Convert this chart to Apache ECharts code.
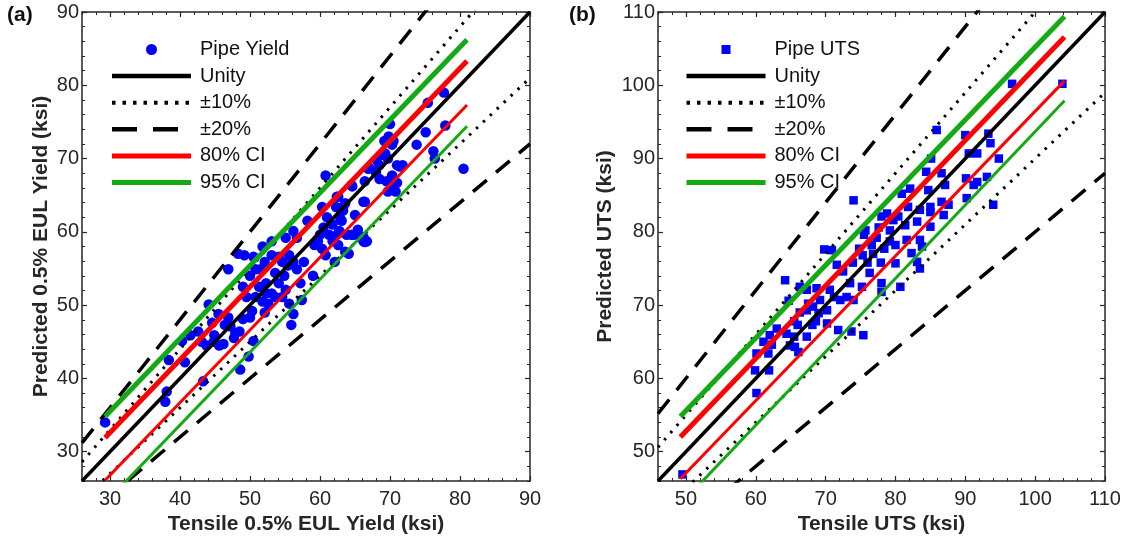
<!DOCTYPE html>
<html><head><meta charset="utf-8">
<script src="https://cdn.jsdelivr.net/npm/echarts@6/dist/echarts.min.js"></script>
<style>html,body{margin:0;padding:0;background:#fff}#c{width:1124px;height:542px}</style>
</head><body><div id="c"></div>
<script>
// ---------- Panel (a): Pipe Yield ----------
const yieldTensile = [29.3,38.1,37.9,38.4,40.7,43.3,48.6,49.8,50.5,40.3,41.5,42.6,43.8,44.1,44.9,45.6,46.2,46.9,46.9,48.3,49.2,47.2,47.7,47.9,48.5,49.0,50.0,50.3,50.8,49.5,49.0,50.0,50.8,50.5,51.8,53.1,52.1,52.3,53.1,52.6,52.1,53.6,54.1,54.6,54.9,55.1,56.2,56.7,55.6,56.2,56.7,57.2,55.1,55.6,56.2,55.9,57.4,57.7,58.2,59.0,59.2,59.7,60.0,60.3,60.5,60.8,61.0,61.3,61.8,62.1,62.3,62.6,63.1,63.6,63.8,64.1,64.6,64.9,65.4,65.9,66.2,66.4,66.7,66.4,66.9,68.0,68.5,69.0,69.2,69.7,70.0,70.3,70.5,70.3,70.8,71.0,71.0,71.8,73.8,75.1,75.4,76.2,76.4,77.7,77.9,80.5,69.8,69.5,68.5,69.7,51.3,51.8,53.1,53.6,54.6,55.4,54.1,51.5,52.3,45.5,46.4,44.8,43.1,44.6,61.8,62.8,63.3,62.6,60.3,60.8,71.4,70.5,69.3,68.1,67.1,64.5,66.2,62.4,63.3,62.9,65.0,64.5,66.2,62.6,63.6,66.4];
const yieldPredicted = [34.0,38.2,36.8,42.5,42.2,39.6,41.2,43.0,45.1,45.1,45.9,46.4,44.5,50.1,45.9,44.5,44.7,48.3,54.9,57.0,56.8,47.1,45.5,46.2,46.4,48.1,48.3,49.2,51.1,51.1,52.5,54.0,54.9,56.6,58.0,58.7,55.9,53.0,51.6,50.2,49.0,51.1,53.0,55.9,54.0,59.2,60.1,59.2,56.8,55.9,54.9,53.0,52.1,50.2,48.8,47.3,50.7,55.9,61.5,54.0,58.2,58.7,59.6,63.4,60.6,67.7,62.0,59.6,61.0,55.9,63.4,64.8,61.5,63.9,59.6,57.0,66.2,59.6,60.3,59.2,58.7,64.1,58.7,66.9,68.6,68.1,69.1,70.5,72.4,70.0,74.7,71.9,72.4,67.7,65.5,66.7,69.1,69.1,71.9,73.6,77.6,71.0,70.0,79.0,74.5,68.6,73.0,66.9,67.2,65.5,52.5,50.5,56.8,54.4,51.1,55.4,56.6,54.9,51.6,48.8,47.3,45.0,45.0,47.6,58.7,60.1,62.9,58.2,57.7,56.8,68.9,66.6,70.7,69.8,68.7,66.4,64.1,64.8,63.4,61.8,62.3,59.6,59.3,59.8,57.3,58.6];
const yieldTicks = [30,40,50,60,70,80,90];
const yieldMinorTicks = [26,28,32,34,36,38,42,44,46,48,52,54,56,58,62,64,66,68,72,74,76,78,82,84,86,88];
const yieldRefX = [26, 90];
const yieldUnity = [26, 90];
const yieldPlus10 = [28.6, 99];
const yieldMinus10 = [23.4, 81];
const yieldPlus20 = [31.2, 108];
const yieldMinus20 = [20.8, 72];
const yieldCiX = [29.3, 81.0];
const yieldCi80Upper = [31.9, 83.3];
const yieldCi80Lower = [26.1, 77.3];
const yieldCi95Upper = [34.8, 86.2];
const yieldCi95Lower = [23.0, 74.4];

// ---------- Panel (b): Pipe UTS ----------
const utsTensile = [49.5,60.1,59.9,60.1,61.1,61.8,61.9,62.3,62.0,63.0,64.4,64.9,65.6,66.1,65.5,66.0,66.3,65.5,64.2,64.7,66.3,67.3,67.3,68.1,68.6,68.7,67.5,67.3,68.2,69.0,69.2,69.8,70.9,70.2,70.2,70.6,71.2,71.6,72.5,71.8,72.1,73.0,73.5,73.9,74.0,73.7,75.4,74.0,75.2,74.8,75.3,75.5,75.7,76.0,76.3,76.6,76.8,77.3,77.6,77.9,78.4,78.0,78.8,78.0,78.0,79.2,79.2,79.7,80.0,80.0,80.7,80.4,81.4,80.9,82.1,81.6,82.3,83.1,83.5,83.5,83.8,83.1,83.5,84.4,84.7,85.0,85.0,85.0,85.1,85.9,86.6,86.6,86.9,87.1,87.6,90.0,90.5,90.1,90.2,91.2,91.7,91.7,93.1,93.3,93.6,94.8,94.0,96.7,103.9,81.8];
const utsPredicted = [46.9,58.0,61.1,63.4,65.0,63.4,61.1,64.6,65.9,66.8,66.1,64.5,64.3,63.6,65.7,67.3,69.0,67.8,73.4,70.6,72.5,72.1,65.7,67.3,67.8,72.3,70.2,69.3,69.8,68.9,70.7,77.6,77.5,67.5,69.3,72.1,71.1,75.5,74.6,66.6,70.7,71.1,73.0,75.8,84.3,66.4,65.9,70.7,72.5,77.7,76.8,79.6,80.2,75.8,74.4,78.2,77.0,79.2,80.6,75.8,77.7,82.1,82.5,73.0,71.8,80.2,78.7,81.6,78.2,75.7,72.5,82.1,80.9,85.2,85.9,78.9,77.1,75.9,75.0,78.9,78.0,81.4,83.0,88.2,85.7,83.4,82.7,80.7,90.0,93.9,88.0,84.1,82.3,86.4,83.7,93.2,90.7,87.3,84.6,86.4,90.7,86.8,87.5,93.4,92.1,90.0,83.7,100.2,100.2,83.4];
const utsTicks = [50,60,70,80,90,100,110];
const utsMinorTicks = [46,48,52,54,56,58,62,64,66,68,72,74,76,78,82,84,86,88,92,94,96,98,102,104,106,108];
const utsRefX = [46, 110];
const utsUnity = [46, 110];
const utsPlus10 = [50.6, 121];
const utsMinus10 = [41.4, 99];
const utsPlus20 = [55.2, 132];
const utsMinus20 = [36.8, 88];
const utsCiX = [49.2, 104.2];
const utsCi80Upper = [52.0, 106.6];
const utsCi80Lower = [46.3, 100.6];
const utsCi95Upper = [54.8, 109.4];
const utsCi95Lower = [42.8, 97.9];

const legendNamesA = ['Pipe Yield', 'Unity', '±10%', '±20%', '80% CI', '95% CI'];
const legendNamesB = ['Pipe UTS', 'Unity', '±10%', '±20%', '80% CI', '95% CI'];

const FONT = 'Liberation Sans, Arial, Helvetica, sans-serif';
const AX = '#262626';
const BLUE = '#0000FF', RED = '#FF0000', GREEN = '#14AA14', BLACK = '#000000';

// legend icon line styles (style only)
const legendLineStyles = {
  'Unity': { width: 4.5, type: 'solid' },
  '±10%': { width: 4, type: [3.5, 7] },
  '±20%': { width: 4.5, type: [25, 16] },
  '80% CI': { width: 5, type: 'solid' },
  '95% CI': { width: 5, type: 'solid' }
};

function pairs(xs, ys) { return xs.map((x, i) => [x, ys[i]]); }

function axesFor(dim, grid, min, max, majors, minors, name, nameGap) {
  const isX = dim === 'x';
  const posMain = isX ? 'bottom' : 'left';
  const posOpp = isX ? 'top' : 'right';
  const base = { type: 'value', gridIndex: grid, min: min, max: max, splitLine: { show: false }, scale: true };
  const lineStyle = { color: AX, width: 1.5 };
  return [
    Object.assign({}, base, {
      position: posMain,
      axisLine: { show: true, onZero: false, lineStyle },
      axisTick: { show: true, inside: true, length: 5, customValues: majors, lineStyle: { color: AX, width: 1.2 } },
      axisLabel: { show: true, customValues: majors, fontSize: 20, color: AX, fontFamily: FONT, margin: isX ? 8 : 3 },
      name: name, nameLocation: 'middle', nameGap: nameGap,
      nameTextStyle: { fontSize: 21, fontWeight: 'bold', color: AX, fontFamily: FONT }
    }),
    Object.assign({}, base, {
      position: posMain,
      axisLine: { show: false, onZero: false },
      axisTick: { show: true, inside: true, length: 3, customValues: minors, lineStyle: { color: AX, width: 1 } },
      axisLabel: { show: false }
    }),
    Object.assign({}, base, {
      position: posOpp,
      axisLine: { show: true, onZero: false, lineStyle },
      axisTick: { show: true, inside: true, length: 5, customValues: majors, lineStyle: { color: AX, width: 1.2 } },
      axisLabel: { show: false }
    }),
    Object.assign({}, base, {
      position: posOpp,
      axisLine: { show: false, onZero: false },
      axisTick: { show: true, inside: true, length: 3, customValues: minors, lineStyle: { color: AX, width: 1 } },
      axisLabel: { show: false }
    })
  ];
}

function lineSeries(name, xi, yi, xs, ys, color, width, type) {
  return {
    type: 'line', name: name, xAxisIndex: xi, yAxisIndex: yi,
    data: pairs(xs, ys), symbol: 'none', clip: true, z: 3,
    lineStyle: { color: color, width: width, type: type || 'solid', cap: 'butt' },
    itemStyle: { color: color },
    emphasis: { disabled: true }, silent: true
  };
}

function panelSeries(xi, yi, scatterName, sym, symSize, tx, ty, refX, unity, p10, m10, p20, m20, ciX, c80u, c80l, c95u, c95l) {
  return [
    { type: 'scatter', name: scatterName, xAxisIndex: xi, yAxisIndex: yi, data: pairs(tx, ty),
      symbol: sym, symbolSize: symSize, itemStyle: { color: BLUE, opacity: 1 }, z: 2, silent: true },
    lineSeries('Unity', xi, yi, refX, unity, BLACK, 3.5),
    lineSeries('±10%', xi, yi, refX, p10, BLACK, 3, [2.5, 7]),
    lineSeries('±10%', xi, yi, refX, m10, BLACK, 3, [2.5, 7]),
    lineSeries('±20%', xi, yi, refX, p20, BLACK, 3.5, [18, 12]),
    lineSeries('±20%', xi, yi, refX, m20, BLACK, 3.5, [18, 12]),
    lineSeries('80% CI', xi, yi, ciX, c80u, RED, 5),
    lineSeries('80% CI', xi, yi, ciX, c80l, RED, 3),
    lineSeries('95% CI', xi, yi, ciX, c95u, GREEN, 5),
    lineSeries('95% CI', xi, yi, ciX, c95l, GREEN, 3)
  ];
}

function legendData(names, markerIcon) {
  return names.map((n, i) => i === 0
    ? (markerIcon ? { name: n, icon: markerIcon } : { name: n })
    : { name: n, itemStyle: { color: 'rgba(0,0,0,0)', borderWidth: 0, opacity: 0 }, lineStyle: legendLineStyles[n] });
}

const chart = echarts.init(document.getElementById('c'), null, { renderer: 'canvas' });
const legendBase = {
  orient: 'vertical', itemWidth: 79, itemGap: 6.6, selectedMode: false, padding: 0, symbolKeepAspect: true,
  textStyle: { fontSize: 20, lineHeight: 20, color: '#111', fontFamily: FONT, padding: [0, 0, 0, 4] }
};
chart.setOption({
  animation: false,
  backgroundColor: '#fff',
  title: [
    { text: '(a)', left: 7, top: 5, padding: 0, textStyle: { fontSize: 21, fontWeight: 'bold', color: '#111', fontFamily: FONT } },
    { text: '(b)', left: 569, top: 5, padding: 0, textStyle: { fontSize: 21, fontWeight: 'bold', color: '#111', fontFamily: FONT } }
  ],
  legend: [
    Object.assign({}, legendBase, { data: legendData(legendNamesA, null), left: 109.5, top: 39.5, itemHeight: 11 }),
    Object.assign({}, legendBase, { data: legendData(legendNamesB, 'path://M0,0L10,0L10,10L0,10Z'), left: 684, top: 39.5, itemHeight: 9 })
  ],
  grid: [
    { left: 82, top: 12, width: 448, height: 469, containLabel: false, outerBoundsMode: 'none' },
    { left: 658, top: 12, width: 447, height: 469, containLabel: false, outerBoundsMode: 'none' }
  ],
  xAxis: [].concat(
    axesFor('x', 0, 26, 90, yieldTicks, yieldMinorTicks, 'Tensile 0.5% EUL Yield (ksi)', 31),
    axesFor('x', 1, 46, 110, utsTicks, utsMinorTicks, 'Tensile UTS (ksi)', 31)
  ),
  yAxis: [].concat(
    axesFor('y', 0, 26, 90, yieldTicks, yieldMinorTicks, 'Predicted 0.5% EUL Yield (ksi)', 30),
    axesFor('y', 1, 46, 110, utsTicks, utsMinorTicks, 'Predicted UTS (ksi)', 42)
  ),
  series: [].concat(
    panelSeries(0, 0, 'Pipe Yield', 'circle', 10.5, yieldTensile, yieldPredicted, yieldRefX, yieldUnity, yieldPlus10, yieldMinus10, yieldPlus20, yieldMinus20, yieldCiX, yieldCi80Upper, yieldCi80Lower, yieldCi95Upper, yieldCi95Lower),
    panelSeries(4, 4, 'Pipe UTS', 'rect', 8.5, utsTensile, utsPredicted, utsRefX, utsUnity, utsPlus10, utsMinus10, utsPlus20, utsMinus20, utsCiX, utsCi80Upper, utsCi80Lower, utsCi95Upper, utsCi95Lower)
  )
});
</script>
</body></html>
